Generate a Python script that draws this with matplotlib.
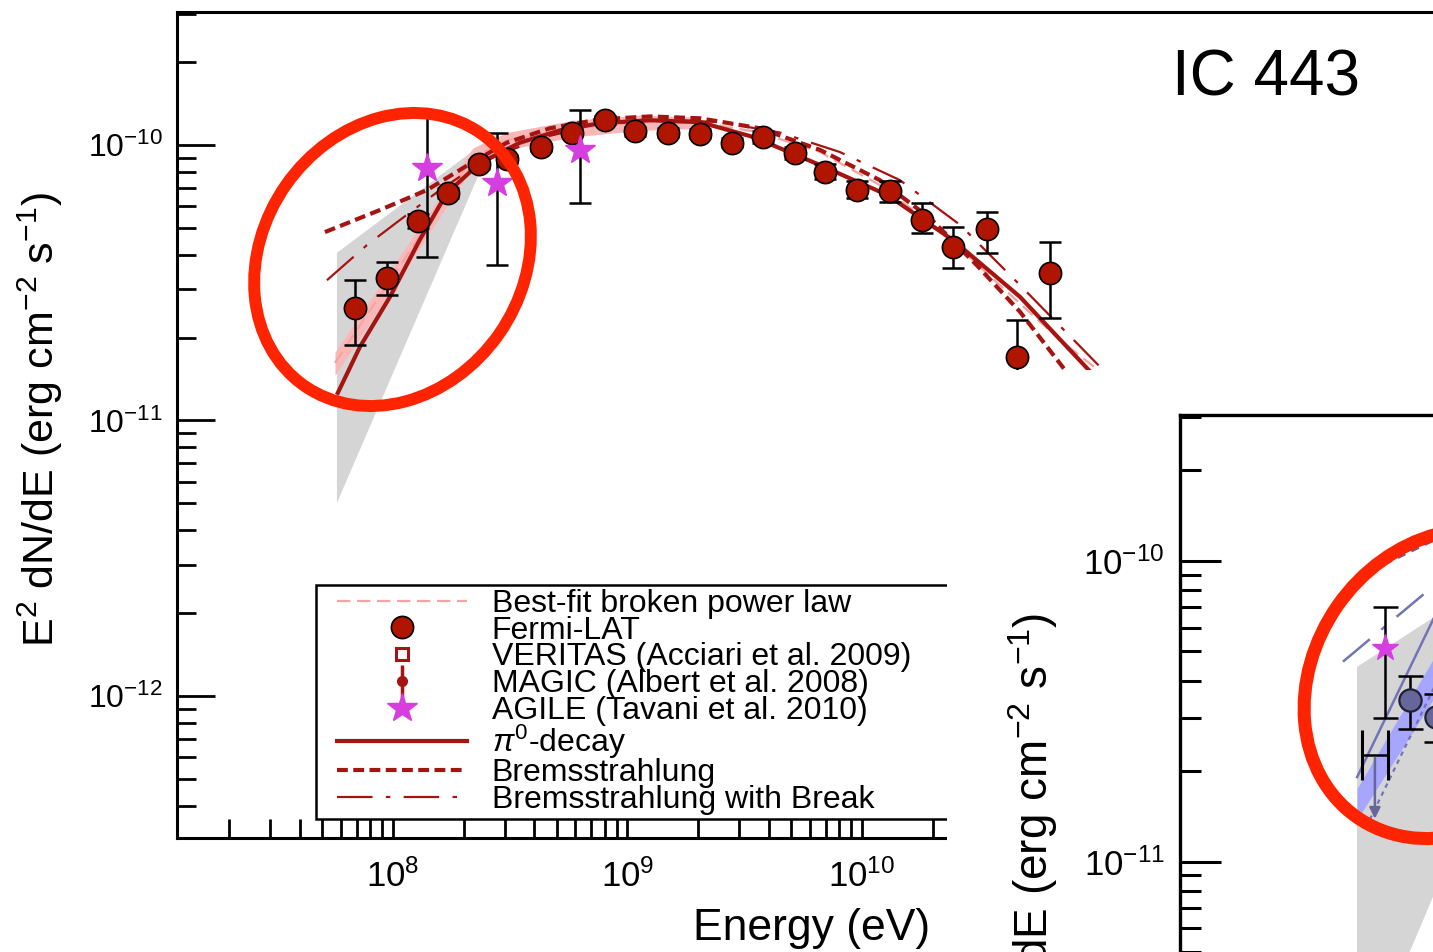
"""
IC 443 gamma-ray SED (Fermi-LAT / AGILE with pi0-decay and bremsstrahlung models),
with the corner of the W44 panel pasted over the lower right, as in the reference.
"""
import numpy as np
import matplotlib.pyplot as plt
from matplotlib.patches import Ellipse, Rectangle
from matplotlib.container import ErrorbarContainer
from matplotlib.legend_handler import HandlerLine2D, HandlerErrorbar
from matplotlib.ticker import LogLocator, NullFormatter

plt.rcParams['font.family'] = ['Liberation Sans', 'DejaVu Sans']
plt.rcParams['mathtext.fontset'] = 'custom'
plt.rcParams['mathtext.rm'] = 'Liberation Sans'
plt.rcParams['mathtext.it'] = 'Liberation Sans:italic'
plt.rcParams['mathtext.bf'] = 'Liberation Sans:bold'

# ------------------------
# Data - IC 443 panel (E in eV, E^2 dN/dE in erg cm^-2 s^-1)
# ------------------------
fermi_E = [6.88e7, 9.42e7, 1.28e8, 1.72e8, 2.33e8, 3.06e8, 4.28e8, 5.80e8, 8.02e8,
           1.08e9, 1.49e9, 2.04e9, 2.79e9, 3.78e9, 5.18e9, 6.95e9, 9.52e9, 1.32e10,
           1.80e10, 2.44e10, 3.41e10, 4.58e10, 6.34e10]
fermi_F = [2.56e-11, 3.29e-11, 5.3e-11, 6.7e-11, 8.5e-11, 8.9e-11, 9.8e-11, 1.11e-10, 1.23e-10,
           1.12e-10, 1.11e-10, 1.10e-10, 1.02e-10, 1.07e-10, 9.35e-11, 7.98e-11, 6.87e-11, 6.8e-11,
           5.34e-11, 4.27e-11, 4.95e-11, 1.70e-11, 3.43e-11]
fermi_lo = [1.88e-11, 2.86e-11, 5.0e-11, 6.4e-11, 8.2e-11, 8.6e-11, 9.5e-11, 1.08e-10, 1.19e-10,
            1.08e-10, 1.07e-10, 1.06e-10, 9.8e-11, 1.02e-10, 8.9e-11, 7.5e-11, 6.4e-11, 6.2e-11,
            4.8e-11, 3.58e-11, 4.06e-11, 1.0e-11, 2.36e-11]
fermi_hi = [3.24e-11, 3.76e-11, 5.6e-11, 7.0e-11, 8.8e-11, 9.2e-11, 1.01e-10, 1.14e-10, 1.27e-10,
            1.16e-10, 1.15e-10, 1.14e-10, 1.06e-10, 1.12e-10, 9.8e-11, 8.5e-11, 7.4e-11, 7.4e-11,
            6.15e-11, 5.03e-11, 5.71e-11, 2.32e-11, 4.45e-11]

agile_E = [1.40e8, 2.77e8, 6.27e8]
agile_F = [8.25e-11, 7.28e-11, 9.6e-11]
agile_lo = [3.92e-11, 3.67e-11, 6.15e-11]
agile_hi = [1.30e-10, 1.11e-10, 1.34e-10]

# grey butterfly
gray_E = [5.77e7, 2.77e8, 5.77e7]
gray_F = [4.06e-11, 1.105e-10, 5.02e-12]

# best-fit broken power law and its band
bpl_E = [5.66e7, 1.04e8, 2.19e8, 3.06e8, 5.86e8, 1.13e9, 2.04e9, 3.67e9, 6.62e9,
         1.19e10, 2.15e10, 3.87e10, 6.99e10, 1.04e11, 1.39e11]
bpl_F = [1.62e-11, 3.51e-11, 9.04e-11, 1.04e-10, 1.15e-10, 1.21e-10, 1.21e-10, 1.11e-10, 9.43e-11,
         7.16e-11, 4.91e-11, 3.10e-11, 1.96e-11, 1.50e-11, 1.15e-11]
band_E = [5.66e7, 1.04e8, 2.19e8, 3.06e8, 5.86e8, 1.13e9, 2.04e9]
band_lo = [1.46e-11, 3.18e-11, 8.32e-11, 9.6e-11, 1.07e-10, 1.13e-10, 1.15e-10]
band_hi = [1.77e-11, 3.82e-11, 9.75e-11, 1.11e-10, 1.23e-10, 1.285e-10, 1.26e-10]

# models
pi0_E = [5.82e7, 7.23e7, 9.71e7, 1.30e8, 1.70e8, 2.35e8, 3.48e8, 5.15e8, 7.63e8, 1.25e9,
         2.04e9, 3.43e9, 6.62e9, 1.28e10, 2.44e10, 4.72e10, 9.10e10, 1.26e11]
pi0_F = [1.26e-11, 1.85e-11, 2.81e-11, 4.52e-11, 6.70e-11, 8.6e-11, 1.02e-10, 1.13e-10, 1.20e-10, 1.23e-10,
         1.21e-10, 1.07e-10, 8.46e-11, 6.59e-11, 4.52e-11, 2.81e-11, 1.55e-11, 1.16e-11]
brems_E = [5.13e7, 8.81e7, 1.40e8, 2.19e8, 3.06e8, 4.67e8, 7.63e8, 1.25e9, 2.04e9, 3.67e9,
           6.62e9, 1.19e10, 1.95e10, 3.09e10, 4.72e10, 7.19e10, 1.04e11]
brems_F = [4.83e-11, 5.81e-11, 6.87e-11, 8.67e-11, 1.02e-10, 1.15e-10, 1.24e-10, 1.27e-10, 1.25e-10, 1.15e-10,
           9.6e-11, 7.46e-11, 5.43e-11, 3.66e-11, 2.48e-11, 1.56e-11, 1.06e-11]
brk_E = [5.23e7, 7.74e7, 1.07e8, 1.59e8, 2.35e8, 4.24e8, 7.63e8, 1.38e9, 2.48e9, 4.47e9,
         8.05e9, 1.45e10, 2.62e10, 4.72e10, 1.04e11, 1.39e11]
brk_F = [3.23e-11, 4.33e-11, 5.34e-11, 6.87e-11, 8.6e-11, 1.06e-10, 1.19e-10, 1.24e-10, 1.21e-10, 1.11e-10,
         9.43e-11, 7.46e-11, 5.13e-11, 3.10e-11, 1.56e-11, 1.21e-11]

# ------------------------
# Data - W44 panel corner (only what shows in the crop)
# ------------------------
w_gray_E = [5.88e7, 4.97e8, 5.88e7]
w_gray_F = [4.44e-11, 1.44e-10, 1.93e-12]
w_band_E = [5.88e7, 2.0e8]
w_band_lo = [1.38e-11, 7.16e-11]
w_band_hi = [1.75e-11, 1.03e-10]
w_pi0_E, w_pi0_F = [5.88e7, 2.0e8], [1.91e-11, 1.66e-10]
w_bpl_E, w_bpl_F = [6.59e7, 2.0e8], [1.38e-11, 9.64e-11]
w_brems_E, w_brems_F = [5.88e7, 2.0e8], [8.85e-11, 1.47e-10]
w_brk_E, w_brk_F = [5.18e7, 2.0e8], [4.62e-11, 1.21e-10]
w_agile_E, w_agile_F, w_agile_lo, w_agile_hi = [7.55e7], [5.14e-11], [3.01e-11], [7.03e-11]
w_fermi_E = [9.44e7, 1.19e8]
w_fermi_F = [3.45e-11, 3.03e-11]
w_fermi_lo = [2.75e-11, 2.5e-11]
w_fermi_hi = [4.15e-11, 3.6e-11]
w_ul_E, w_ul_Elo, w_ul_Ehi = 6.90e7, 6.14e7, 7.76e7
w_ul_F, w_ul_Fend = 2.26e-11, 1.36e-11

# ------------------------
# Style
# ------------------------
DARKRED = '#a51410'
FERMI_RED = '#b01500'
PINK = '#f5a3a3'
PINK_BAND = '#f9b8b8'
MAGENTA = '#d63ee0'
GRAY = '#d5d5d5'
BLUE_BAND = '#a6a6ff'
BLUE_LINE = '#7373b8'
SLATE = '#66669a'
CIRCLE_RED = '#ff2400'

W, H = 1433, 952  # canvas in pixels


def frac_box(left, top, right, bottom):
    return [left / W, 1 - bottom / H, (right - left) / W, (bottom - top) / H]


def style_axes(ax, scale, labelsize):
    ax.set_xscale('log')
    ax.set_yscale('log')
    for axis in (ax.xaxis, ax.yaxis):
        axis.set_major_locator(LogLocator(base=10, numticks=30))
        axis.set_minor_locator(LogLocator(base=10, subs=np.arange(2, 10), numticks=30))
        axis.set_minor_formatter(NullFormatter())
    ax.tick_params(which='major', direction='in', length=27 * scale, width=2.0 * scale,
                   labelsize=labelsize, pad=10 * scale, top=False, right=False)
    ax.tick_params(which='minor', direction='in', length=14 * scale, width=2.0 * scale,
                   top=False, right=False)
    for sp in ax.spines.values():
        sp.set_linewidth(2.2 * scale)


fig = plt.figure(figsize=(W / 100, H / 100), dpi=100)

# ------------------------
# Main panel: IC 443
# ------------------------
ax1 = fig.add_axes(frac_box(177, 12, 1565.5, 838))
style_axes(ax1, 1.0, 23)
ax1.tick_params(axis='x', which='major', labelsize=25, pad=15)
ax1.set_xlim(1.2e7, 1e13)
ax1.set_ylim(3.05e-13, 3.04e-10)

ax1.fill(gray_E, gray_F, color=GRAY, lw=0, zorder=1)
ax1.fill_between(band_E, band_lo, band_hi, color=PINK_BAND, lw=0, zorder=2)
h_bpl, = ax1.plot(bpl_E, bpl_F, color=PINK, lw=1.6, ls=(0, (6, 3)), zorder=3,
                  label='Best-fit broken power law')
h_pi0, = ax1.plot(pi0_E, pi0_F, color=DARKRED, lw=3.0, zorder=3, label=r'$\pi^0$-decay')
h_brems, = ax1.plot(brems_E, brems_F, color=DARKRED, lw=3.0, ls=(0, (2.6, 1.3)), zorder=3,
                    label='Bremsstrahlung')
h_brk, = ax1.plot(brk_E, brk_F, color=DARKRED, lw=1.6, ls=(0, (16, 6, 2, 6)), zorder=3,
                  label='Bremsstrahlung with Break')

fermi_err = [np.subtract(fermi_F, fermi_lo), np.subtract(fermi_hi, fermi_F)]
ax1.errorbar(fermi_E, fermi_F, yerr=fermi_err, fmt='none', ecolor='black',
             elinewidth=1.8, capsize=8, capthick=1.8, zorder=4)
h_fermi, = ax1.plot(fermi_E, fermi_F, ls='none', marker='o', ms=16, mfc=FERMI_RED,
                    mec='black', mew=1.2, zorder=5, label='Fermi-LAT')

agile_err = [np.subtract(agile_F, agile_lo), np.subtract(agile_hi, agile_F)]
ax1.errorbar(agile_E, agile_F, yerr=agile_err, fmt='none', ecolor='black',
             elinewidth=1.8, capsize=8, capthick=1.8, zorder=4)
h_agile, = ax1.plot(agile_E, agile_F, ls='none', marker='*', ms=22, color=MAGENTA,
                    mec=MAGENTA, zorder=6, label='AGILE (Tavani et al. 2010)')

# TeV points sit under the pasted panel; legend entries only
h_veritas, = ax1.plot([], [], ls='none', marker='s', ms=9, mfc='white', mec=DARKRED,
                      mew=2.2, label='VERITAS (Acciari et al. 2009)')
h_magic = ax1.errorbar([np.nan], [np.nan], yerr=[0.0], fmt='o', ms=7, color=DARKRED,
                       ecolor=DARKRED, elinewidth=2.5, capsize=0,
                       label='MAGIC (Albert et al. 2008)')

handles = [h_bpl, h_fermi, h_veritas, h_magic, h_agile, h_pi0, h_brems, h_brk]
leg = ax1.legend(handles=handles, labels=[h.get_label() for h in handles],
                 loc='upper left', bbox_to_anchor=(316 / W, 1 - 585 / H - 0.1, (1010 - 316) / W, 0.1),
                 bbox_transform=fig.transFigure, mode='expand', borderaxespad=0,
                 borderpad=0.12, fontsize=23, labelspacing=-0.1, handlelength=4.6,
                 handletextpad=0.78, fancybox=False, framealpha=1, edgecolor='black',
                 handler_map={plt.Line2D: HandlerLine2D(xpad=0.55),
                              ErrorbarContainer: HandlerErrorbar(xpad=0.55)})
leg.get_frame().set_linewidth(1.8)

# hand-drawn highlight
fig.add_artist(Ellipse((392.5 / 100, (H - 259.5) / 100), 3.08, 2.60, angle=55,
                       transform=fig.dpi_scale_trans, fill=False, ec=CIRCLE_RED, lw=8.6, zorder=1))

fig.text(40 / W, 1 - 420 / H, r'E$^2$ dN/dE (erg cm$^{-2}$ s$^{-1}$)', rotation=90,
         ha='center', va='center', fontsize=31)
fig.text(930 / W, 1 - 940 / H, 'Energy (eV)', ha='right', va='baseline', fontsize=32)
fig.text(1172 / W, 1 - 95 / H, 'IC 443', ha='left', va='baseline', fontsize=46)

# ------------------------
# Pasted corner of the W44 panel
# ------------------------
fig.add_artist(Rectangle((947 / W, 0), (W - 947) / W, 1 - 370 / H, transform=fig.transFigure,
                         fc='white', ec='none', zorder=2))

ax2 = fig.add_axes(frac_box(1180, 415, 2699, 1320))
ax2.set_zorder(3)
style_axes(ax2, 1.094, 25)
ax2.set_xlim(1.2e7, 1e13)
ax2.set_ylim(3.0e-13, 3.05e-10)

ax2.fill(w_gray_E, w_gray_F, color=GRAY, lw=0, zorder=1)
ax2.fill_between(w_band_E, w_band_lo, w_band_hi, color=BLUE_BAND, lw=0, zorder=2)
ax2.plot(w_pi0_E, w_pi0_F, color=BLUE_LINE, lw=1.8, zorder=3)
ax2.plot(w_bpl_E, w_bpl_F, color=BLUE_LINE, lw=1.6, ls=(0, (2, 2)), zorder=3)
ax2.plot(w_brems_E, w_brems_F, color='#5c5ca8', lw=3.0, ls=(0, (2.0, 1.6)), zorder=3)
ax2.plot(w_brk_E, w_brk_F, color=BLUE_LINE, lw=1.8, ls=(0, (14, 6, 2, 6)), zorder=3)

ax2.errorbar(w_agile_E, w_agile_F,
             yerr=[np.subtract(w_agile_F, w_agile_lo), np.subtract(w_agile_hi, w_agile_F)],
             fmt='none', ecolor='black', elinewidth=1.8, capsize=9, capthick=1.8, zorder=4)
ax2.plot(w_agile_E, w_agile_F, ls='none', marker='*', ms=20, color=MAGENTA, zorder=6)
ax2.errorbar(w_fermi_E, w_fermi_F,
             yerr=[np.subtract(w_fermi_F, w_fermi_lo), np.subtract(w_fermi_hi, w_fermi_F)],
             fmt='none', ecolor='black', elinewidth=1.8, capsize=9, capthick=1.8, zorder=4)
ax2.plot(w_fermi_E, w_fermi_F, ls='none', marker='o', ms=16, mfc=SLATE, mec='#202030',
         mew=1.6, zorder=5)
ax2.errorbar([w_ul_E], [w_ul_F], xerr=[[w_ul_E - w_ul_Elo], [w_ul_Ehi - w_ul_E]], fmt='none',
             ecolor='black', elinewidth=1.8, capsize=18, capthick=2.2, zorder=4)
ax2.annotate('', xy=(w_ul_E, w_ul_Fend), xytext=(w_ul_E, w_ul_F),
             arrowprops=dict(arrowstyle='-|>', color=SLATE, lw=1.8, mutation_scale=16), zorder=4)

fig.add_artist(Ellipse((1450 / 100, (H - 684) / 100), 3.25, 2.74, angle=55,
                       transform=fig.dpi_scale_trans, fill=False, ec=CIRCLE_RED, lw=9.4, zorder=4))

fig.text(1033 / W, 1 - 855 / H, r'E$^2$ dN/dE (erg cm$^{-2}$ s$^{-1}$)', rotation=90,
         ha='center', va='center', fontsize=33, zorder=5)

fig.savefig('out.png', dpi=100)
